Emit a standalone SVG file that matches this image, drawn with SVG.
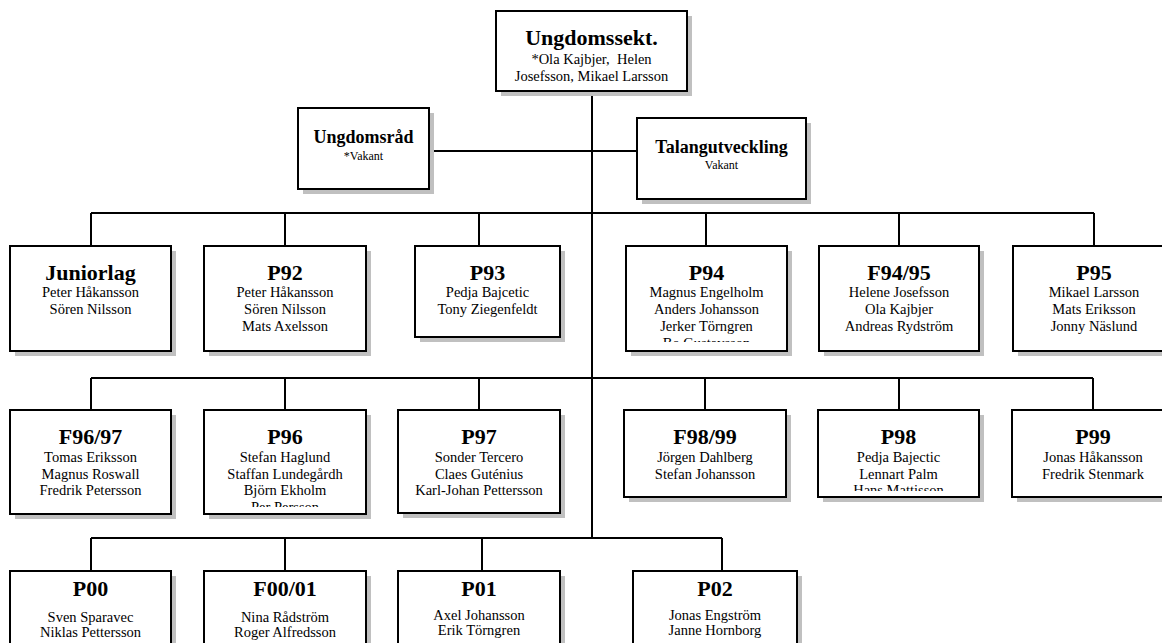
<svg xmlns="http://www.w3.org/2000/svg" width="1162" height="643" viewBox="0 0 1162 643">
<style>
.bg{fill:#fff}
.sh{fill:#c0c0c0}
.bx{fill:#fff;stroke:#000;stroke-width:2}
.c{stroke:#000;stroke-width:2;fill:none}
text{font-family:"Liberation Serif","Times New Roman",serif;text-anchor:middle;fill:#000}
.t{font-weight:bold;font-size:22px}
.t2{font-weight:bold;font-size:18px}
.m{font-size:14.5px}
.s{font-size:12px}
</style>
<defs>
<clipPath id="cp94"><rect x="626" y="246" width="161" height="96"/></clipPath>
<clipPath id="cp96"><rect x="204" y="410" width="162" height="97"/></clipPath>
<clipPath id="cp98"><rect x="818" y="410" width="161" height="81"/></clipPath>
</defs>
<rect class="bg" x="0" y="0" width="1162" height="643"/>
<g id="connectors">
<path class="c" d="M592,92 V538"/>
<path class="c" d="M429,151 H637"/>
<path class="c" d="M91,213 H1094 M91,213 V246 M285,213 V246 M479,213 V246 M706,213 V246 M899,213 V246 M1094,213 V246"/>
<path class="c" d="M91,378 H1093 M91,378 V410 M285,378 V410 M479,378 V410 M705,378 V410 M899,378 V410 M1093,378 V410"/>
<path class="c" d="M91,538 H722 M91,538 V571 M285,538 V571 M482,538 V571 M722,538 V571"/>
</g>
<g id="ungdomssekt">
<rect class="sh" x="501" y="16" width="191" height="80"/>
<rect class="bx" x="496" y="11" width="191" height="80"/>
<text class="t" x="591.5" y="45">Ungdomssekt.</text>
<text class="m" x="591.5" y="64" xml:space="preserve">*Ola Kajbjer,  Helen</text>
<text class="m" x="591.5" y="81">Josefsson, Mikael Larsson</text>
</g>
<g id="ungdomsrad">
<rect class="sh" x="303" y="113" width="131" height="81"/>
<rect class="bx" x="298" y="108" width="131" height="81"/>
<text class="t2" x="363.5" y="143">Ungdomsråd</text>
<text class="s" x="363.5" y="160">*Vakant</text>
</g>
<g id="talangutveckling">
<rect class="sh" x="642" y="123" width="169" height="81"/>
<rect class="bx" x="637" y="118" width="169" height="81"/>
<text class="t2" x="721.5" y="153">Talangutveckling</text>
<text class="s" x="721.5" y="169">Vakant</text>
</g>
<g id="juniorlag">
<rect class="sh" x="15" y="251" width="161" height="105"/>
<rect class="bx" x="10" y="246" width="161" height="105"/>
<text class="t" x="90.5" y="280">Juniorlag</text>
<text class="m" x="90.5" y="297">Peter Håkansson</text>
<text class="m" x="90.5" y="314">Sören Nilsson</text>
</g>
<g id="p92">
<rect class="sh" x="209" y="251" width="162" height="105"/>
<rect class="bx" x="204" y="246" width="162" height="105"/>
<text class="t" x="285" y="280">P92</text>
<text class="m" x="285" y="297">Peter Håkansson</text>
<text class="m" x="285" y="314">Sören Nilsson</text>
<text class="m" x="285" y="331">Mats Axelsson</text>
</g>
<g id="p93">
<rect class="sh" x="420" y="251" width="145" height="91"/>
<rect class="bx" x="415" y="246" width="145" height="91"/>
<text class="t" x="487.5" y="280">P93</text>
<text class="m" x="487.5" y="297">Pedja Bajcetic</text>
<text class="m" x="487.5" y="314">Tony Ziegenfeldt</text>
</g>
<g id="p94">
<rect class="sh" x="631" y="251" width="161" height="105"/>
<rect class="bx" x="626" y="246" width="161" height="105"/>
<text class="t" x="706.5" y="280">P94</text>
<g clip-path="url(#cp94)">
<text class="m" x="706.5" y="297">Magnus Engelholm</text>
<text class="m" x="706.5" y="314">Anders Johansson</text>
<text class="m" x="706.5" y="331">Jerker Törngren</text>
<text class="m" x="706.5" y="348">Bo Gustavsson</text>
</g>
</g>
<g id="f94-95">
<rect class="sh" x="824" y="251" width="160" height="105"/>
<rect class="bx" x="819" y="246" width="160" height="105"/>
<text class="t" x="899" y="280">F94/95</text>
<text class="m" x="899" y="297">Helene Josefsson</text>
<text class="m" x="899" y="314">Ola Kajbjer</text>
<text class="m" x="899" y="331">Andreas Rydström</text>
</g>
<g id="p95">
<rect class="sh" x="1018" y="251" width="162" height="105"/>
<rect class="bx" x="1013" y="246" width="162" height="105"/>
<text class="t" x="1094" y="280">P95</text>
<text class="m" x="1094" y="297">Mikael Larsson</text>
<text class="m" x="1094" y="314">Mats Eriksson</text>
<text class="m" x="1094" y="331">Jonny Näslund</text>
</g>
<g id="f96-97">
<rect class="sh" x="15" y="415" width="161" height="104"/>
<rect class="bx" x="10" y="410" width="161" height="104"/>
<text class="t" x="90.5" y="444">F96/97</text>
<text class="m" x="90.5" y="462">Tomas Eriksson</text>
<text class="m" x="90.5" y="478.5">Magnus Roswall</text>
<text class="m" x="90.5" y="495">Fredrik Petersson</text>
</g>
<g id="p96">
<rect class="sh" x="209" y="415" width="162" height="104"/>
<rect class="bx" x="204" y="410" width="162" height="104"/>
<text class="t" x="285" y="444">P96</text>
<g clip-path="url(#cp96)">
<text class="m" x="285" y="462">Stefan Haglund</text>
<text class="m" x="285" y="478.5">Staffan Lundegårdh</text>
<text class="m" x="285" y="495">Björn Ekholm</text>
<text class="m" x="285" y="512">Per Persson</text>
</g>
</g>
<g id="p97">
<rect class="sh" x="403" y="415" width="162" height="103"/>
<rect class="bx" x="398" y="410" width="162" height="103"/>
<text class="t" x="479" y="444">P97</text>
<text class="m" x="479" y="462">Sonder Tercero</text>
<text class="m" x="479" y="478.5">Claes Guténius</text>
<text class="m" x="479" y="495">Karl-Johan Pettersson</text>
</g>
<g id="f98-99">
<rect class="sh" x="629" y="415" width="162" height="87"/>
<rect class="bx" x="624" y="410" width="162" height="87"/>
<text class="t" x="705" y="444">F98/99</text>
<text class="m" x="705" y="462">Jörgen Dahlberg</text>
<text class="m" x="705" y="478.5">Stefan Johansson</text>
</g>
<g id="p98">
<rect class="sh" x="823" y="415" width="161" height="87"/>
<rect class="bx" x="818" y="410" width="161" height="87"/>
<text class="t" x="898.5" y="444">P98</text>
<g clip-path="url(#cp98)">
<text class="m" x="898.5" y="462">Pedja Bajectic</text>
<text class="m" x="898.5" y="478.5">Lennart Palm</text>
<text class="m" x="898.5" y="495">Hans Mattisson</text>
</g>
</g>
<g id="p99">
<rect class="sh" x="1017" y="415" width="162" height="87"/>
<rect class="bx" x="1012" y="410" width="162" height="87"/>
<text class="t" x="1093" y="444">P99</text>
<text class="m" x="1093" y="462">Jonas Håkansson</text>
<text class="m" x="1093" y="478.5">Fredrik Stenmark</text>
</g>
<g id="p00">
<rect class="sh" x="15" y="576" width="161" height="80"/>
<rect class="bx" x="10" y="571" width="161" height="80"/>
<text class="t" x="90.5" y="596">P00</text>
<text class="m" x="90.5" y="622">Sven Sparavec</text>
<text class="m" x="90.5" y="637">Niklas Pettersson</text>
</g>
<g id="f00-01">
<rect class="sh" x="209" y="576" width="162" height="80"/>
<rect class="bx" x="204" y="571" width="162" height="80"/>
<text class="t" x="285" y="596">F00/01</text>
<text class="m" x="285" y="622">Nina Rådström</text>
<text class="m" x="285" y="637">Roger Alfredsson</text>
</g>
<g id="p01">
<rect class="sh" x="403" y="576" width="162" height="80"/>
<rect class="bx" x="398" y="571" width="162" height="80"/>
<text class="t" x="479" y="596">P01</text>
<text class="m" x="479" y="620">Axel Johansson</text>
<text class="m" x="479" y="635">Erik Törngren</text>
</g>
<g id="p02">
<rect class="sh" x="638" y="576" width="164" height="80"/>
<rect class="bx" x="633" y="571" width="164" height="80"/>
<text class="t" x="715" y="596">P02</text>
<text class="m" x="715" y="620">Jonas Engström</text>
<text class="m" x="715" y="635">Janne Hornborg</text>
</g>
</svg>
